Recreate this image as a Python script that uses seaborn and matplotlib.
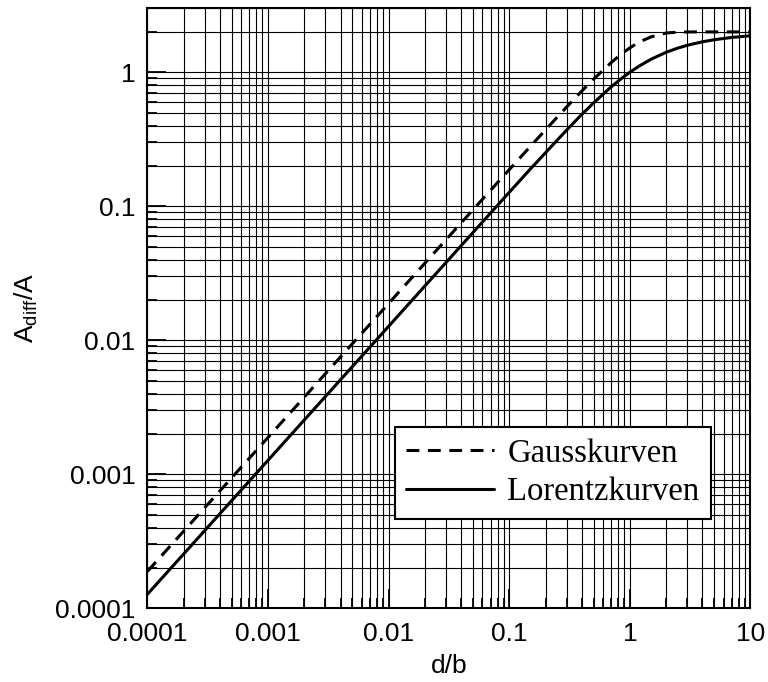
import numpy as np
import pandas as pd
import matplotlib
matplotlib.use('Agg')
import matplotlib.pyplot as plt
import seaborn as sns
from matplotlib.ticker import LogLocator, FixedFormatter, FixedLocator, NullFormatter

# ─── Data ─────────────────────────────────────────────────────────────────────
d_b = [1e-4, 1e-3, 1e-2, 0.05, 0.1, 0.15, 0.2, 0.3, 0.4, 0.5, 0.7, 0.85,
       1.0, 1.2, 1.5, 2.0, 2.5, 3.0, 4.0, 5.0, 7.0, 10.0]
gauss = [1.88e-4, 1.88e-3, 0.0188, 0.094, 0.1875, 0.280, 0.372, 0.552, 0.725,
         0.888, 1.18, 1.37, 1.52, 1.685, 1.836, 1.963, 1.993, 1.999, 2.0, 2.0,
         2.0, 2.0]
lorentz = [1.27e-4, 1.27e-3, 0.0127, 0.0636, 0.127, 0.190, 0.251, 0.371,
           0.485, 0.590, 0.778, 0.897, 1.0, 1.115, 1.251, 1.410, 1.515,
           1.590, 1.688, 1.749, 1.819, 1.873]

x_ticks = [1e-4, 1e-3, 1e-2, 0.1, 1, 10]
x_labels = ['0.0001', '0.001', '0.01', '0.1', '1', '10']
y_ticks = [1e-4, 1e-3, 1e-2, 0.1, 1]
y_labels = ['0.0001', '0.001', '0.01', '0.1', '1']

df = pd.DataFrame({'d_b': d_b, 'gauss': gauss, 'lorentz': lorentz})

# ─── Style ────────────────────────────────────────────────────────────────────
sns.set_style('ticks')
plt.rcParams['font.family'] = ['Liberation Sans', 'DejaVu Sans']
plt.rcParams['text.color'] = 'black'
plt.rcParams['axes.labelcolor'] = 'black'
plt.rcParams['xtick.color'] = 'black'
plt.rcParams['ytick.color'] = 'black'

fig = plt.figure(figsize=(7.68, 6.82), dpi=100)
ax = fig.add_axes([0.1918, 0.1081, 0.9772 - 0.1918, 0.9878 - 0.1081])

sns.lineplot(data=df, x='d_b', y='gauss', ax=ax, color='black', lw=2.2,
             linestyle=(0, (4.2, 2.8)), label='Gausskurven')
sns.lineplot(data=df, x='d_b', y='lorentz', ax=ax, color='black', lw=2.2,
             label='Lorentzkurven')

ax.set_xscale('log')
ax.set_yscale('log')
ax.set_xlim(1e-4, 10)
ax.set_ylim(1e-4, 3.0)

ax.xaxis.set_major_locator(FixedLocator(x_ticks))
ax.xaxis.set_major_formatter(FixedFormatter(x_labels))
ax.yaxis.set_major_locator(FixedLocator(y_ticks))
ax.yaxis.set_major_formatter(FixedFormatter(y_labels))
ax.xaxis.set_minor_locator(LogLocator(base=10, subs=np.arange(2, 10), numticks=20))
ax.yaxis.set_minor_locator(LogLocator(base=10, subs=np.arange(2, 10), numticks=20))
ax.xaxis.set_minor_formatter(NullFormatter())
ax.yaxis.set_minor_formatter(NullFormatter())

ax.grid(True, which='both', color='black', lw=0.8)
ax.tick_params(which='major', direction='in', length=14, width=1.3,
               labelsize=19, color='black', labelcolor='black')
ax.tick_params(which='minor', direction='in', length=7, width=1.3,
               color='black')
ax.tick_params(axis='x', which='major', pad=10)
ax.tick_params(axis='y', which='major', pad=8.5)
for sp in ax.spines.values():
    sp.set_color('black')
    sp.set_linewidth(1.5)

ax.set_xlabel('d/b', fontsize=19, labelpad=6, color='black')
ax.set_ylabel(r'A$_\mathregular{diff}$/A', fontsize=19, labelpad=11, color='black')

leg = ax.legend(loc='lower right', bbox_to_anchor=(0.934, 0.149),
                prop={'family': 'Liberation Serif', 'size': 23.5},
                fancybox=False, framealpha=1, edgecolor='black',
                handlelength=2.7, borderpad=0.35, labelspacing=0.25,
                handletextpad=0.4, borderaxespad=0)
leg.get_frame().set_linewidth(1.5)
for t in leg.get_texts():
    t.set_color('black')

plt.savefig('out.png', dpi=100)
